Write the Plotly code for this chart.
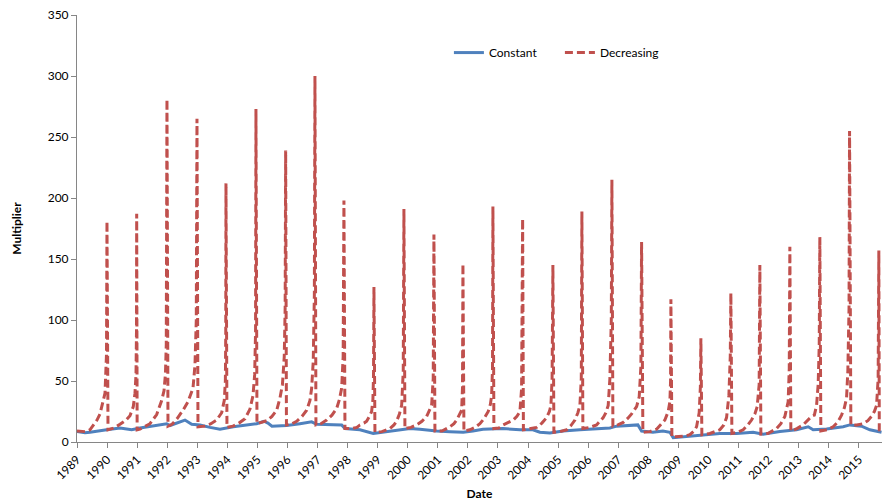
import plotly.graph_objects as go

# ---- data ----
year_ticks = list(range(1989, 2016))
year_labels = [str(y) for y in year_ticks]

const_x = [1989.000, 1989.266, 1989.432, 1989.765, 1989.987, 1990.430, 1990.819, 1991.095,
           1991.650, 1991.982, 1992.092, 1992.315, 1992.591, 1992.814, 1993.090, 1993.422,
           1993.754, 1994.197, 1994.642, 1994.975, 1995.217, 1995.350, 1995.483, 1995.972,
           1996.414, 1996.803, 1996.970, 1997.412, 1997.801, 1997.911, 1998.409, 1998.851,
           1999.407, 2000.072, 2000.404, 2000.959, 2001.402, 2001.844, 2002.166, 2002.499,
           2003.164, 2003.729, 2004.161, 2004.394, 2004.726, 2005.159, 2005.724, 2006.279,
           2006.721, 2006.944, 2007.486, 2007.652, 2007.775, 2008.151, 2008.484, 2008.716,
           2008.826, 2009.271, 2009.823, 2010.378, 2010.934, 2011.486, 2011.818, 2012.374,
           2012.929, 2013.315, 2013.481, 2013.926, 2014.478, 2014.701, 2015.089, 2015.366,
           2015.754]
const_y = [8.6, 7.5, 8, 9.5, 10, 11.5, 10, 11.5,
           14, 15, 13.5, 15.5, 18, 14.5, 14, 12,
           10.5, 12.5, 14, 15, 17, 15.5, 13, 13.5,
           15, 16.5, 14.5, 14, 14, 11, 10, 7,
           9, 11, 10.5, 9, 8.5, 8, 9, 10.5,
           11, 10, 10, 8, 7.3, 9, 10, 11,
           11.5, 13, 14, 14, 9, 8, 9, 8,
           3.5, 4.4, 5.7, 7, 7, 8, 6.3, 8.6,
           10, 12.5, 10, 10.7, 12.5, 14, 13, 10,
           8]

dec_x = [
    1989.000, 1989.266, 1989.432, 1989.542, 1989.665, 1989.765, 1989.864, 1989.931, 1989.981, 1989.997,
    1990.031, 1990.230, 1990.430, 1990.629, 1990.762, 1990.872, 1990.928, 1990.962, 1990.978, 1990.985,
    1991.000, 1991.095, 1991.427, 1991.650, 1991.816, 1991.893, 1991.942, 1991.969, 1991.992,
    1992.026, 1992.159, 1992.325, 1992.524, 1992.691, 1992.857, 1992.923, 1992.967, 1992.990,
    1993.023, 1993.256, 1993.455, 1993.645, 1993.811, 1993.897, 1993.934, 1993.947, 1993.954,
    1993.987, 1994.187, 1994.386, 1994.586, 1994.752, 1994.852, 1994.908, 1994.938, 1994.951,
    1994.985, 1995.151, 1995.317, 1995.483, 1995.640, 1995.749, 1995.832, 1995.892, 1995.922, 1995.939,
    1995.965, 1996.115, 1996.305, 1996.481, 1996.637, 1996.747, 1996.803, 1996.856, 1996.893, 1996.913,
    1996.946, 1997.113, 1997.302, 1997.478, 1997.635, 1997.728, 1997.801, 1997.851, 1997.877,
    1997.911, 1998.143, 1998.310, 1998.409, 1998.542, 1998.632, 1998.725, 1998.798, 1998.841, 1998.861, 1998.875,
    1998.908, 1999.141, 1999.407, 1999.540, 1999.629, 1999.722, 1999.796, 1999.849, 1999.872,
    1999.905, 2000.105, 2000.294, 2000.470, 2000.627, 2000.737, 2000.793, 2000.846, 2000.870,
    2000.903, 2001.136, 2001.402, 2001.535, 2001.624, 2001.717, 2001.791, 2001.820, 2001.834,
    2001.867, 2002.066, 2002.233, 2002.399, 2002.532, 2002.675, 2002.748, 2002.788, 2002.818, 2002.831,
    2002.864, 2003.031, 2003.174, 2003.330, 2003.506, 2003.629, 2003.729, 2003.785, 2003.819,
    2003.845, 2004.061, 2004.284, 2004.460, 2004.617, 2004.710, 2004.760, 2004.799, 2004.826,
    2004.859, 2005.059, 2005.282, 2005.425, 2005.558, 2005.657, 2005.724, 2005.770, 2005.790,
    2005.823, 2006.056, 2006.279, 2006.389, 2006.499, 2006.588, 2006.665, 2006.721, 2006.768, 2006.788,
    2006.821, 2006.987, 2007.164, 2007.320, 2007.443, 2007.609, 2007.696, 2007.752, 2007.775,
    2007.818, 2008.051, 2008.274, 2008.417, 2008.550, 2008.660, 2008.716, 2008.739, 2008.750,
    2008.783, 2009.049, 2009.248, 2009.381, 2009.514, 2009.604, 2009.690, 2009.730, 2009.747,
    2009.780, 2010.046, 2010.212, 2010.378, 2010.511, 2010.601, 2010.678, 2010.724, 2010.744,
    2010.778, 2010.977, 2011.153, 2011.309, 2011.432, 2011.542, 2011.619, 2011.685, 2011.708,
    2011.742, 2011.974, 2012.264, 2012.407, 2012.540, 2012.649, 2012.686, 2012.706,
    2012.739, 2012.939, 2013.148, 2013.304, 2013.427, 2013.520, 2013.594, 2013.647, 2013.683, 2013.703,
    2013.736, 2013.936, 2014.145, 2014.302, 2014.425, 2014.518, 2014.591, 2014.634, 2014.674, 2014.691,
    2014.734, 2014.933, 2015.143, 2015.299, 2015.422, 2015.516, 2015.589, 2015.642, 2015.665,
    2015.680, 2015.765,
]
dec_y = [
    9, 8.5, 10, 14, 18, 23, 32, 40, 72, 181,
    10, 11.5, 14.5, 18, 21.5, 29, 40, 55, 90, 187,
    10, 10.5, 15, 22.5, 34, 42, 56, 80, 281,
    13, 14.5, 19, 26, 33, 44, 63, 100, 265,
    12.5, 13, 15, 18, 24, 34, 50, 90, 212,
    12, 13, 15.5, 19, 27, 38, 55, 90, 273,
    15, 16, 17.5, 21, 26, 36, 47, 70, 110, 239,
    14, 14.5, 17, 21, 26, 34, 44, 66, 120, 300,
    14, 15, 18, 22, 27.5, 35, 44, 70, 198,
    11, 11, 12, 14, 15.5, 17, 21, 25, 35, 55, 127,
    8, 8.5, 11, 14, 17, 23, 30, 58, 191,
    11, 12, 14, 17, 21, 27, 30, 52, 170,
    9, 9, 12.5, 15, 18, 22, 26, 45, 146,
    9, 10, 12, 15, 19, 25, 31, 38, 60, 193,
    11, 11.5, 14, 16, 18, 21, 25, 44, 183,
    10, 11, 12, 15.5, 20, 25, 30, 52, 145,
    8, 8.5, 10, 13.5, 18, 24, 30, 52, 189,
    11, 12, 14, 17, 20, 24, 30, 52, 100, 215,
    13, 14, 16, 19.5, 23, 29, 37, 62, 164,
    8, 8.5, 10.5, 14, 18, 25, 33, 50, 117,
    4, 4.5, 5, 6, 9, 12.5, 24, 45, 85,
    6, 7, 8.5, 10, 14, 20, 38, 70, 122,
    7, 8, 10, 14, 18, 23, 29, 47, 145,
    6.5, 7, 11, 15, 21, 33, 60, 160,
    9, 11, 14, 17.5, 21, 22, 30, 47, 80, 168,
    9, 10, 12.5, 16.5, 22, 28, 36, 58, 110, 255,
    14, 14, 15, 17.5, 21, 25, 30, 52, 157,
    10, 10,
]

FONT = "Lato"
AXIS_GREY = "#868686"

fig = go.Figure()
fig.add_trace(go.Scatter(
    x=const_x, y=const_y, mode="lines", name="Constant",
    line=dict(color="#4F81BD", width=3),
))
fig.add_trace(go.Scatter(
    x=dec_x, y=dec_y, mode="lines", name="Decreasing",
    line=dict(color="#C0504D", width=3, dash="8px,4px"),
))

fig.update_layout(
    width=883, height=503,
    margin=dict(l=77, r=1, t=15, b=61),
    paper_bgcolor="white", plot_bgcolor="white",
    font=dict(family=FONT, size=12, color="#000000"),
    showlegend=True,
    legend=dict(
        orientation="h", x=0.462, y=0.912, xanchor="left", yanchor="middle",
        bgcolor="rgba(0,0,0,0)", font=dict(family=FONT, size=12),
        entrywidth=66, entrywidthmode="pixels",
    ),
    xaxis=dict(
        range=[1989, 2015.77], tickmode="array", tickvals=year_ticks, ticktext=year_labels,
        tickangle=-45, showgrid=False, zeroline=False,
        showline=True, linecolor=AXIS_GREY, linewidth=1,
        ticks="outside", ticklen=5, tickcolor=AXIS_GREY,
        title=dict(text="<b>Date</b>", font=dict(family=FONT, size=12), standoff=8),
        automargin=False,
    ),
    yaxis=dict(
        range=[0, 350], dtick=50, showgrid=False, zeroline=False,
        showline=True, linecolor=AXIS_GREY, linewidth=1,
        ticks="outside", ticklen=5, tickcolor=AXIS_GREY,
        title=dict(text="<b>Multiplier</b>", font=dict(family=FONT, size=12), standoff=23),
        automargin=False,
    ),
)

fig.write_html("out.html", config={"displayModeBar": False},
               post_script="document.body.style.margin='0';")
